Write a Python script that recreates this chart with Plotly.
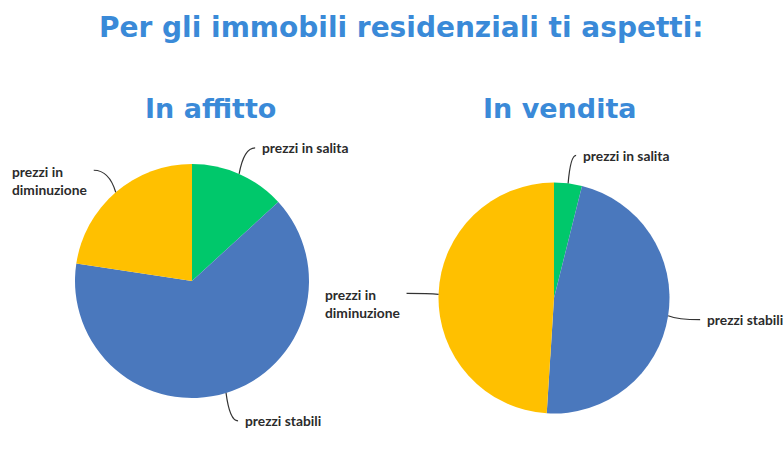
import math
import plotly.graph_objects as go

W, H = 784, 459

labels = ["prezzi in salita", "prezzi stabili", "prezzi in<br>diminuzione"]
colors = ["#00C86B", "#4A78BD", "#FFC000"]
affitto_values = [13.2, 64.2, 22.6]
vendita_values = [3.9, 47.1, 49.0]
titles = ["In affitto", "In vendita"]

# pie geometry in pixels (centre x, centre y from top, radius)
pies = [
    {"cx": 192, "cy": 281, "r": 117, "values": affitto_values},
    {"cx": 554, "cy": 298, "r": 115.5, "values": vendita_values},
]
# leader line end offsets and text anchors, per pie per slice
leaders = [
    [(16, -26, "left"), (12, 28, "left"), (-22, -22, "right")],
    [(8, -28, "left"), (32, 4, "left"), (-32, -1, "right")],
]
label_font = dict(family="Lato", size=13.8, color="#2b2b2b", weight="bold")


def px(x):
    return x / W


def py(y):
    return 1 - y / H


fig = go.Figure()
shapes = []
annotations = []

for i, p in enumerate(pies):
    fig.add_trace(go.Pie(
        labels=labels, values=p["values"], sort=False, direction="clockwise",
        rotation=0, marker=dict(colors=colors, line=dict(width=0)),
        textinfo="none", hoverinfo="label+percent", showlegend=False,
        domain=dict(x=[px(p["cx"] - p["r"]), px(p["cx"] + p["r"])],
                    y=[py(p["cy"] + p["r"]), py(p["cy"] - p["r"])]),
    ))
    total = sum(p["values"])
    start = 0
    for j, v in enumerate(p["values"]):
        mid = (start + v / 2) / total * 2 * math.pi
        start += v
        ex = p["cx"] + p["r"] * math.sin(mid)
        ey = p["cy"] - p["r"] * math.cos(mid)
        dx, dy, side = leaders[i][j]
        tx, ty = ex + dx, ey + dy
        shapes.append(dict(type="path", xref="paper", yref="paper",
                           path=f"M {px(ex)},{py(ey)} Q {px(ex + dx * 0.3)},{py(ty)} {px(tx)},{py(ty)}",
                           line=dict(color="#333333", width=1.2)))
        two_lines = "<br>" in labels[j]
        annotations.append(dict(
            x=px(tx + (5 if side == "left" else -5)),
            y=py(ty - 9) if two_lines else py(ty), xref="paper", yref="paper",
            text=labels[j], showarrow=False, align="left",
            xanchor=side, yanchor="top" if two_lines else "middle", font=label_font))

title_font = dict(family="DejaVu Sans", size=28, color="#3A8AD8", weight="bold")
annotations.append(dict(x=px(401), y=py(27), xref="paper", yref="paper",
                        text="Per gli immobili residenziali ti aspetti:",
                        showarrow=False, xanchor="center", yanchor="middle", font=title_font))
for t, cx in zip(titles, [211, 560]):
    annotations.append(dict(x=px(cx), y=py(109), xref="paper", yref="paper",
                            text=t, showarrow=False, xanchor="center", yanchor="middle",
                            font=dict(title_font, size=27)))

fig.update_layout(
    width=W, height=H, margin=dict(l=0, r=0, t=0, b=0),
    paper_bgcolor="white", plot_bgcolor="white",
    shapes=shapes, annotations=annotations,
)
fig.write_html("out.html", config={"displayModeBar": False},
               post_script="document.body.style.margin='0';")
